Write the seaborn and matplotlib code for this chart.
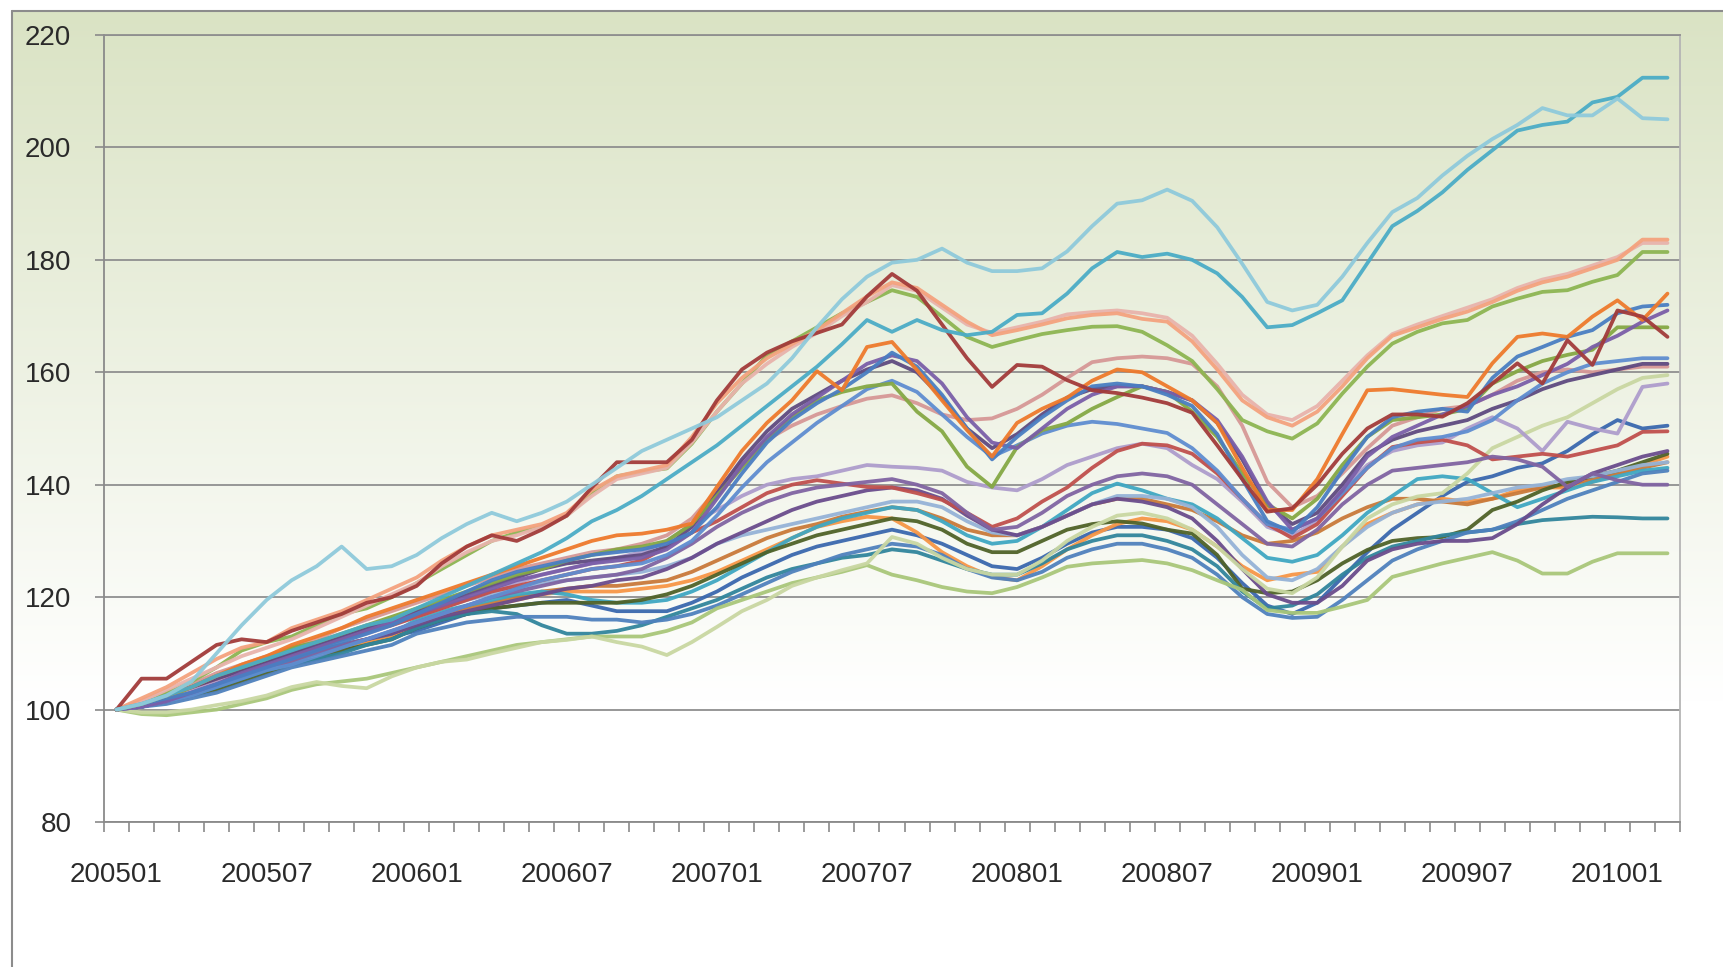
import numpy as np
import pandas as pd
import seaborn as sns
import matplotlib.pyplot as plt

# month labels 200501 .. 201003
months = []
for yr in range(2005, 2011):
    for mo in range(1, 13):
        months.append(f"{yr}{mo:02d}")
months = months[:63]

light_aqua = [
    100, 101, 102.5, 105, 110, 115, 119.5, 123, 125.5, 129, 125, 125.5,
    127.5, 130.5, 133, 135, 133.5, 135, 137, 140, 143, 146, 148, 150,
    152, 155, 158, 162.5, 168, 173, 177, 179.5, 180, 182, 179.5, 178,
    178, 178.5, 181.5, 186, 190, 190.6, 192.5, 190.5, 185.8, 179.3, 172.5, 171,
    172, 177, 183, 188.5, 191, 195, 198.5, 201.5, 204, 207, 205.7, 205.7,
    208.7, 205.2, 205]
aqua = [
    100, 101, 102.5, 104, 106, 107.5, 109, 110.5, 112, 113.5, 115, 116,
    118, 120, 122, 124, 126, 128, 130.5, 133.5, 135.5, 138, 141, 144,
    147, 150.5, 154, 157.5, 161, 165, 169.3, 167.2, 169.3, 167.5, 166.6, 167.2,
    170.2, 170.5, 174, 178.5, 181.4, 180.5, 181.1, 180, 177.6, 173.4, 168, 168.4,
    170.5, 172.8, 179.4, 186, 188.7, 192, 196, 199.5, 203, 204, 204.6, 208,
    209, 212.4, 212.4]
dark_red = [
    100, 105.5, 105.5, 108.5, 111.5, 112.5, 112, 114, 115.5, 117, 119, 120,
    122, 126, 129, 131, 130, 132, 134.5, 139.5, 144, 144, 144, 148,
    155, 160.5, 163.5, 165.5, 167, 168.5, 173.5, 177.5, 174.5, 168.5, 162.5, 157.4,
    161.3, 161, 158.6, 156.8, 156.3, 155.5, 154.5, 152.8, 147, 141, 135.2, 135.8,
    140, 145.5, 150, 152.5, 152.5, 152.1, 154.5, 158, 161.6, 158, 165.7, 161.3,
    171, 169.9, 166.3]
salmon = [
    100, 102, 104, 106.5, 109, 111, 112, 114.5, 116, 117.5, 119.5, 121.5,
    123.5, 126.5, 129, 131, 132, 133, 135, 139, 141.5, 142.5, 143.5, 148.5,
    154.5, 159, 162.5, 165, 167.5, 170.5, 173.5, 176, 175, 172, 169, 166.6,
    167.5, 168.5, 169.6, 170.2, 170.5, 169.5, 169, 165.5, 160.5, 155, 152, 150.5,
    153, 157.5, 162.5, 166.5, 168, 169.5, 170.8, 172.5, 174.5, 176, 177, 178.5,
    180, 183.6, 183.6]
pink = [
    100, 101.5, 103.5, 105.5, 107.5, 109.5, 111, 112.5, 114.5, 116.5, 118.5, 120.5,
    122.5, 125.5, 128, 130, 131, 132.5, 134.5, 138, 141, 142, 143, 147.5,
    153, 158, 161.5, 164.5, 167, 170, 172.5, 175.5, 174.5, 171.5, 168.5, 167,
    168, 169, 170.3, 170.7, 171, 170.5, 169.7, 166.5, 161.5, 156, 152.5, 151.5,
    154, 158.5, 163, 166.8, 168.5, 170, 171.5, 173, 175, 176.5, 177.5, 179,
    180.5, 183, 183]
green = [
    100, 101, 103, 105, 107.5, 110.5, 112, 113, 115, 117, 118, 120,
    122.5, 125, 127.5, 130, 131.5, 132.5, 134.5, 138.5, 141.5, 142.3, 142.9, 147.3,
    153, 158, 163, 165.5, 168, 170.5, 172.5, 174.6, 173.4, 169.9, 166.3, 164.5,
    165.7, 166.8, 167.5, 168.1, 168.2, 167.2, 164.8, 162, 157, 151.5, 149.5, 148.2,
    150.9, 156.2, 161, 165.1, 167.2, 168.7, 169.3, 171.7, 173.1, 174.3, 174.6, 176.1,
    177.3, 181.4, 181.4]
orange = [
    100, 101, 102.5, 104, 106, 108, 109.5, 111.5, 113, 114.5, 116.5, 118,
    119.5, 121, 122.5, 124, 125.5, 127, 128.5, 130, 131, 131.3, 132, 133.1,
    139.6, 146, 151, 155, 160.2, 156.8, 164.5, 165.4, 160.4, 155, 149.7, 145,
    151, 153.5, 155.5, 158.5, 160.5, 160, 157.5, 155, 151, 143, 135.5, 135.5,
    141, 149, 156.8, 157, 156.5, 156, 155.6, 161.6, 166.3, 166.9, 166.3, 169.9,
    172.8, 169.3, 174]
blue_b = [
    100, 101, 102, 103, 104.5, 106, 107.5, 109, 110.5, 112, 113.5, 115,
    117, 119, 121, 123, 124.5, 125.5, 126.5, 127.5, 128, 128.5, 129.5, 131.5,
    136, 142, 147.5, 151.5, 154.5, 157, 160, 163.5, 161, 156, 150, 144.5,
    148.5, 152, 155, 157.5, 158, 157.5, 156, 154, 149, 141, 133.5, 131.5,
    136, 142.5, 148.5, 152, 153, 153.5, 153, 159, 162.8, 164.5, 166.3, 167.5,
    170.5, 171.7, 172]
purple_b = [
    100, 100.5, 101.5, 103, 104.5, 106.5, 108, 109.5, 111, 112.5, 114, 115.5,
    117, 118.5, 120, 121.5, 123, 124, 125, 126, 126.5, 127, 128.5, 131.5,
    137.5, 143.5, 148.5, 152.5, 155.5, 158.5, 161.5, 163, 162, 158, 152, 147.5,
    146.5, 150, 153.5, 156, 157.5, 157.5, 156.5, 155, 151.5, 145, 137, 132,
    134, 139, 145, 148.5, 150.5, 152.5, 154, 156, 157.5, 159.5, 161.5, 164.5,
    166.5, 169, 171]
olive = [
    100, 101, 102, 104, 106, 107.5, 109, 111, 112, 113.5, 115, 116.5,
    118, 119.5, 121, 122.5, 124, 125, 126.5, 127.5, 128.5, 129, 130, 133,
    138, 143, 148, 152, 155, 156.5, 157.5, 158, 153, 149.5, 143.2, 139.6,
    146.7, 149.7, 150.9, 153.5, 155.6, 157.5, 156.5, 153, 148.5, 142, 136.5, 134,
    137.5, 143.5, 148.5, 151.5, 152, 152.5, 153.5, 158, 160.2, 162, 163.1, 164,
    168, 168, 168]
blue_flat = [
    100, 100.5, 101.5, 102.5, 104, 105.5, 107, 108, 109.5, 111, 112.5, 114,
    115.5, 117, 118.5, 120, 121.5, 123, 124, 125, 125.5, 126, 127.5, 130,
    134.5, 139.5, 144, 147.5, 151, 154, 157, 158.5, 156.5, 152.5, 148.5, 145,
    147, 149.1, 150.5, 151.2, 150.8, 150, 149.2, 146.5, 142.5, 137.5, 133, 132,
    134, 138.5, 143, 146.5, 148, 148.5, 149.5, 151.5, 155, 158, 160, 161.5,
    162, 162.5, 162.5]
dark_purple = [
    100, 101, 102.5, 104, 105.5, 107, 108.5, 110, 111.5, 113, 114.5, 116,
    117.5, 119, 120.5, 122, 123.5, 125, 126, 126.5, 127, 127.5, 129, 132.5,
    138.5, 144.5, 149.5, 153.5, 156, 158.5, 160.5, 162, 160, 155.5, 150, 146.5,
    149, 152.5, 155.5, 157, 157.5, 157.5, 156.5, 155, 151, 144.5, 136.5, 133,
    135, 140, 145.5, 148, 149.5, 150.5, 151.5, 153.5, 155, 157, 158.5, 159.5,
    160.5, 161.5, 161.5]
mauve = [
    100, 101.5, 103, 104.5, 106.5, 108, 109.5, 111, 112.5, 114.5, 116, 117.5,
    119, 120.5, 122, 123.5, 125, 126, 127, 128, 128.5, 129.5, 131, 134,
    139, 144, 148, 150.5, 152.5, 154, 155.3, 155.9, 154.5, 152.5, 151.5, 151.8,
    153.5, 156, 159, 161.8, 162.5, 162.8, 162.5, 161.5, 157.5, 150.5, 140.5, 136,
    138, 142, 146.5, 150.5, 152, 153.5, 154, 156, 158.5, 160, 160.5, 160,
    160.5, 161, 161]
khaki = [
    100, 99.5, 99.5, 100, 100.8, 101.5, 102.5, 104, 104.9, 104.2, 103.8, 105.9,
    107.5, 108.5, 108.9, 110, 111, 112, 112.4, 113, 112, 111.2, 109.7, 112,
    114.7, 117.5, 119.5, 122, 123.5, 124.8, 126, 130.7, 129.5, 127, 125, 124,
    124, 126.5, 130, 132.5, 134.5, 135, 134, 132, 129, 125, 121.5, 120.7,
    123.5, 129, 134, 136.5, 137.9, 138.5, 142, 146.5, 148.5, 150.5, 152, 154.5,
    157, 159, 159.5]
lavender = [
    100, 101, 102, 103.5, 105, 106.5, 108, 109.5, 111, 112.5, 113.5, 115,
    116.5, 118, 119.5, 121, 122.5, 124, 125, 126, 127, 128, 130, 133,
    135.5, 138, 140, 141, 141.5, 142.5, 143.5, 143.2, 143, 142.5, 140.5, 139.5,
    139, 141, 143.5, 145, 146.5, 147.3, 146.5, 143.5, 141, 137, 132.5, 131,
    133.5, 139, 143.5, 146, 147, 147.5, 150, 152, 150, 146, 151.2, 150,
    149.1, 157.4, 158]
red_m = [
    100, 101, 102.5, 104, 105.5, 107, 108.5, 110, 111, 112.5, 114, 115,
    116.5, 118, 119.5, 121, 122, 123, 124, 125, 125.5, 126.5, 129, 131.5,
    133.5, 136, 138.5, 140, 140.8, 140.2, 139.6, 139.5, 138.5, 137.3, 135, 132.5,
    134, 137, 139.5, 143, 146, 147.3, 147, 145.5, 142, 137.5, 133, 130.5,
    133, 138, 143, 146.7, 147.5, 148, 147, 144.5, 145, 145.5, 145, 146,
    147, 149.4, 149.5]
purple_m = [
    100, 100.5, 101.5, 103, 104.5, 106, 107.5, 108.5, 110, 111.5, 112.5, 114,
    115.5, 117, 118.5, 120, 121, 122, 123, 123.5, 124, 125, 127, 129.5,
    132.5, 135, 137, 138.5, 139.5, 140, 140.5, 141, 140, 138.5, 135, 132,
    132.5, 135, 138, 140, 141.5, 142, 141.5, 140, 136.5, 133, 129.5, 129,
    132, 136.5, 140, 142.5, 143, 143.5, 144, 145, 144.5, 143.2, 139.6, 142,
    140.8, 140, 140]
navy = [
    100, 100.5, 101.5, 102.5, 104, 105.5, 107, 108.5, 110, 111, 112, 113,
    114, 115.5, 117, 118, 118.5, 119, 119.5, 118.5, 117.5, 117.5, 117.5, 119,
    121, 123.5, 125.5, 127.5, 129, 130, 131, 132, 131, 129.5, 127.5, 125.5,
    125, 127, 129.5, 131.5, 132.5, 132.5, 132, 130.5, 127, 122.5, 118.5, 117,
    119, 123.5, 128, 132, 135, 138, 140.5, 141.5, 143, 143.8, 146, 149,
    151.5, 150, 150.5]
orange_low = [
    100, 101, 102, 103, 104.5, 106, 107, 108.5, 110, 111, 112, 113,
    115, 116.5, 117.5, 118.5, 119.5, 120.5, 121, 121, 121, 121.5, 122, 123,
    124.5, 126.5, 128.5, 130.5, 132.5, 133.5, 134.3, 134, 131.5, 128, 125.5, 123.6,
    123, 125.5, 128.5, 131, 133, 134, 133.5, 132, 129, 125.5, 123, 124,
    124.5, 129, 133, 135, 136.5, 137.5, 137, 137.5, 139, 139.5, 139.5, 140.5,
    142, 143.5, 145]
brown = [
    100, 100.5, 101.5, 103, 104.5, 106, 107.5, 109, 110.5, 111.5, 112.5, 113.5,
    115.5, 117, 118, 119, 120, 121, 121.5, 122, 122, 122.5, 123, 124.5,
    126.5, 128.5, 130.5, 132, 133, 134.3, 135.2, 136, 135.5, 134, 132, 131,
    131, 132.5, 134.5, 136.5, 137.5, 137.5, 136.5, 135.5, 133.5, 131, 129.5, 130,
    131.5, 134, 136, 137.5, 137.5, 137, 136.5, 137.5, 138.5, 139.5, 140, 141,
    142, 143, 144]
teal = [
    100, 101, 102, 103, 104.5, 106, 107.5, 109, 110, 111, 112.5, 113.5,
    116, 117.5, 118.5, 119.5, 120.5, 121, 120.5, 119.5, 119, 119, 119.5, 121,
    123, 125.5, 128, 130.5, 132.5, 134, 135, 136, 135.5, 133.5, 131, 129.5,
    130, 132.5, 135.5, 138.5, 140.2, 139, 137.5, 136.5, 134, 130.5, 127, 126.3,
    127.5, 131, 135, 138, 141, 141.5, 141, 138.5, 136, 137.5, 139, 140.5,
    141.5, 142.5, 143]
dark_green = [
    100, 100.5, 101.5, 102.5, 103.5, 105, 106.5, 108, 109, 110.5, 111.5, 112.5,
    114.5, 116, 117, 118, 118.5, 119, 119, 119, 119, 119.5, 120.5, 122,
    124, 126, 128, 129.5, 131, 132, 133, 134, 133.5, 132, 129.5, 128,
    128, 130, 132, 133, 133.5, 133.1, 132, 131.3, 127.5, 121.5, 120.7, 121,
    123, 126, 128.4, 130, 130.5, 130.7, 132, 135.5, 137, 139, 140.5, 141.5,
    142.5, 144, 145.5]
dark_aqua = [
    100, 100.5, 101.5, 102.5, 104, 105.5, 107, 108, 109, 110, 111.5, 112.5,
    114.5, 116, 117, 117.5, 117, 115, 113.5, 113.5, 114, 115, 116.5, 118,
    119.5, 121.5, 123.5, 125, 126, 127, 127.5, 128.5, 128, 126.5, 125, 124,
    124, 126, 128.5, 130, 131, 131, 130, 128.5, 125.5, 121, 118, 118.5,
    120.5, 124, 127, 129, 130, 131, 131.5, 132, 133, 133.7, 134, 134.3,
    134.2, 134, 134]
blue_low = [
    100, 100.5, 101, 102, 103, 104.5, 106, 107.5, 108.5, 109.5, 110.5, 111.5,
    113.5, 114.5, 115.5, 116, 116.5, 116.5, 116.5, 116, 116, 115.5, 116, 117,
    118.5, 120.5, 122.5, 124.5, 126, 127.5, 128.5, 129.5, 129, 127.5, 125, 123.5,
    123, 124.5, 127, 128.5, 129.5, 129.5, 128.5, 127, 124, 120, 117, 116.3,
    116.5, 119.5, 123, 126.5, 128.5, 130, 131.5, 132, 133.5, 135.5, 137.5, 139,
    140.5, 142, 142.5]
light_blue = [
    100, 101.5, 103, 104.5, 106, 107.5, 109, 110.5, 111.5, 113, 114.5, 115.5,
    117, 118.5, 119.5, 120.5, 121.5, 122.5, 123, 123.5, 124, 124.5, 125.5, 127,
    129.5, 131, 132, 133, 134, 135, 136, 137, 137, 136, 133.5, 131.5,
    131, 132.5, 134.5, 136.5, 138, 138, 137.5, 136, 132.5, 127.5, 123.5, 123,
    125, 129, 132.5, 135, 136.5, 137, 137.5, 138.5, 139.5, 140, 141, 141.5,
    142.5, 143.5, 144]
light_green = [
    100, 99.2, 99, 99.5, 100, 101, 102, 103.5, 104.5, 105, 105.5, 106.5,
    107.5, 108.5, 109.5, 110.5, 111.5, 112, 112.5, 113, 113, 113, 114, 115.5,
    118, 119.5, 121, 122.5, 123.5, 124.5, 125.7, 124, 123, 121.8, 121, 120.7,
    121.8, 123.5, 125.4, 126, 126.3, 126.6, 126, 124.8, 123, 121.3, 117.7, 117.2,
    117.2, 118.3, 119.5, 123.6, 124.8, 126, 127, 128, 126.5, 124.2, 124.2, 126.3,
    127.8, 127.8, 127.8]
purple_low = [
    100, 101, 102, 103.5, 105, 106.5, 108, 109, 110.5, 111.5, 112.5, 113.5,
    115, 116.5, 117.5, 118.5, 119.5, 120.5, 121.5, 122, 123, 123.5, 125, 127,
    129.5, 131.5, 133.5, 135.5, 137, 138, 139, 139.5, 139, 137.5, 134.5, 132,
    131, 132.5, 134.5, 136.5, 137.5, 137, 136, 134, 130, 125, 120.5, 119,
    119, 122, 126.5, 128.5, 129.5, 130, 130, 130.5, 133, 136.5, 139.5, 142,
    143.5, 145, 146]

series = {
    "navy": (navy, "#3A68AE"), "orange_low": (orange_low, "#F79646"),
    "brown": (brown, "#C97A3A"), "teal": (teal, "#3FA7C2"),
    "dark_green": (dark_green, "#4F6228"), "dark_aqua": (dark_aqua, "#31859C"),
    "blue_low": (blue_low, "#4F81BD"), "light_blue": (light_blue, "#95B3D7"),
    "light_green": (light_green, "#A9C77A"), "purple_low": (purple_low, "#6A4C8C"),
    "khaki": (khaki, "#C9D7A2"), "lavender": (lavender, "#AE9DCC"),
    "red_m": (red_m, "#C0504D"), "purple_m": (purple_m, "#8064A2"),
    "mauve": (mauve, "#D69896"), "dark_purple": (dark_purple, "#5F4A80"),
    "blue_flat": (blue_flat, "#5F8DD0"), "olive": (olive, "#85A844"),
    "purple_b": (purple_b, "#7A5EA8"), "blue_b": (blue_b, "#4A7EC2"),
    "orange": (orange, "#EE7A2C"), "green": (green, "#8DB552"),
    "pink": (pink, "#E8B3AC"), "salmon": (salmon, "#F4A27E"),
    "dark_red": (dark_red, "#A23B3A"), "aqua": (aqua, "#4BACC6"),
    "light_aqua": (light_aqua, "#8FCADB"),
}

rows = []
for name, (vals, col) in series.items():
    assert len(vals) == 63, name
    for i, v in enumerate(vals):
        rows.append((name, i, v))
df = pd.DataFrame(rows, columns=["series", "idx", "value"])
palette = {k: c for k, (v, c) in series.items()}

sns.set_theme(style="white")
plt.rcParams["font.family"] = ["Liberation Sans", "DejaVu Sans"]

W, H = 1724, 967
fig = plt.figure(figsize=(W / 100, H / 100), dpi=100, facecolor="white")

# chart area: green-to-white vertical gradient with a thin grey border
bg = fig.add_axes([0, 0, 1, 1], zorder=0)
bg.axis("off")
top = np.array([218, 227, 196]) / 255
t = np.clip(np.linspace(0, 1, 400) * (H - 11) / (700 - 11), 0, 1)[:, None]
grad = (top * (1 - t) + 1.0 * t)[:, None, :]
bg.imshow(grad, extent=[12, W, H, 11], aspect="auto", interpolation="bilinear")
bg.plot([12, 12], [11, H], color="#8c8c8c", lw=1.5)
bg.plot([12, W], [11, 11], color="#8c8c8c", lw=1.5)
bg.set_xlim(0, W)
bg.set_ylim(H, 0)

ax = fig.add_axes([104 / W, 1 - 822 / H, (1680 - 104) / W, (822 - 35) / H], zorder=1)
ax.set_facecolor("none")

sns.lineplot(data=df, x="idx", y="value", hue="series", hue_order=list(series.keys()),
             palette=palette, linewidth=2.7, alpha=0.95, legend=False,
             estimator=None, sort=False, ax=ax)

ax.set_xlim(-0.5, 62.5)
ax.set_ylim(80, 220)
ax.set_yticks(range(80, 221, 20))
ax.set_xticks(range(0, 63, 6))
ax.set_xticklabels(months[::6])
ax.set_xticks(np.arange(-0.5, 63, 1), minor=True)
ax.set_xlabel("")
ax.set_ylabel("")

ax.tick_params(axis="x", which="major", length=0, pad=29, labelsize=20, labelcolor="#2a2a2a")
ax.tick_params(axis="x", which="minor", length=7, width=1.2, color="#8a8a8a",
               direction="out", bottom=True)
ax.tick_params(axis="y", length=6.5, width=1.2, color="#8a8a8a", direction="out",
               left=True, pad=17, labelsize=20, labelcolor="#2a2a2a")

ax.grid(axis="y", color="#8f8f8f", lw=1.3)
ax.grid(axis="x", visible=False)
ax.set_axisbelow(True)
for side in ["left", "bottom"]:
    ax.spines[side].set_color("#8a8a8a")
    ax.spines[side].set_linewidth(1.3)
ax.spines["right"].set_color("#b5b5b5")
ax.spines["right"].set_linewidth(1.3)
ax.spines["top"].set_color("#8f8f8f")
ax.spines["top"].set_linewidth(1.3)

fig.savefig("out.png", dpi=100)
